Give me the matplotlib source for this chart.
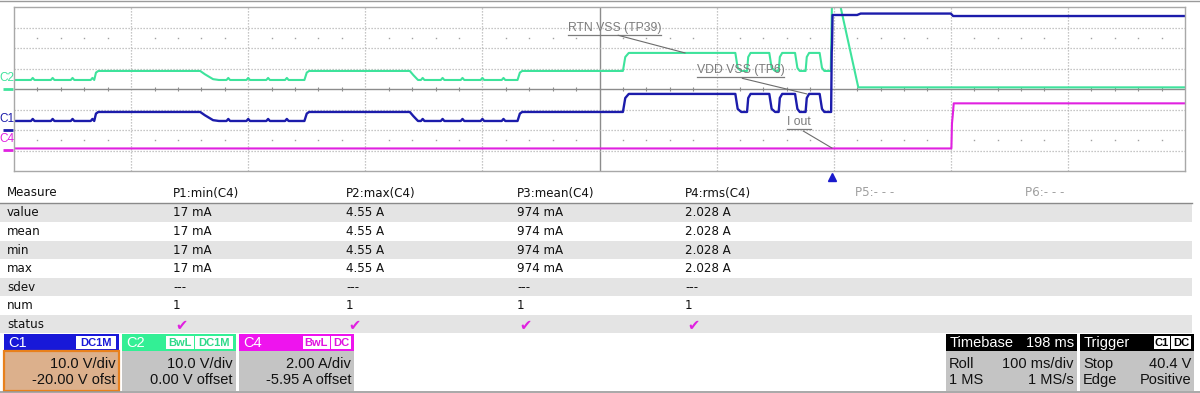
import numpy as np
import matplotlib
matplotlib.use('Agg')
import matplotlib.pyplot as plt
from matplotlib.patches import Rectangle
from matplotlib import transforms

W, H = 1200, 393

# channel settings as shown on the scope (per div, offset)
C1_SCALE, C1_OFFSET = 10.0, -20.0    # V
C2_SCALE, C2_OFFSET = 10.0, 0.0      # V
C4_SCALE, C4_OFFSET = 2.00, -5.95    # A

# trace levels
LO, MID, HI = 4.4, 8.8, 17.6

# C2 (RTN_VSS), time in ms (100 ms/div), volts
c2_t = [0, 68.5, 70, 72, 159, 163, 170, 175, 248, 250, 252, 338, 341, 345, 430, 432, 434,
        520, 522, 525, 616, 618, 621, 626, 627, 629, 645, 647, 650, 653, 654, 656, 667, 669,
        671, 676, 677, 679, 688, 690, 692, 697.5, 698.5, 705.5, 721, 1000]
c2_v = [LO, LO, MID - 0.8, MID, MID, 7.2, LO + 0.4, LO, LO, MID - 0.8, MID, MID, 6.8, LO, LO, MID - 0.8, MID,
        MID, HI - 2, HI, HI, MID + 1.5, MID, MID, HI - 2, HI, HI, MID + 1.5, MID, MID, HI - 2, HI, HI, MID + 1.5,
        MID, MID, HI - 2, HI, HI, MID + 1.5, MID, MID, 41, 41, 0.8, 0.8]

# C1 (VDD_VSS), volts
c1_t = [0, 68.5, 70, 72, 159, 163, 170, 175, 248, 250, 252, 338, 341, 345, 430, 432, 434,
        520, 522, 525, 616, 618, 621, 626, 627, 629, 645, 647, 650, 653, 654, 656, 667, 669,
        671, 676, 677, 679, 688, 690, 692, 697.8, 698.3, 698.6, 699, 720, 723, 800, 802, 1000]
c1_v = [LO, LO, MID - 0.8, MID, MID, 7.2, LO + 0.4, LO, LO, MID - 0.8, MID, MID, 6.8, LO, LO, MID - 0.8, MID,
        MID, HI - 2, HI, HI, MID + 1.5, MID, MID, HI - 2, HI, HI, MID + 1.5, MID, MID, HI - 2, HI, HI, MID + 1.5,
        MID, MID, HI - 2, HI, HI, MID + 1.5, MID, MID, 38, 42, 56.1, 56.1, 56.8, 56.8, 55.6, 55.6]

# C4 (I_out), amps
c4_t = [0, 800.5, 801, 801.6, 802.5, 1000]
c4_i = [0.15, 0.15, 2.6, 3.3, 4.55, 4.55]

# small blips on the low level of C1 / C2
blip_t = [16, 33, 50, 67, 183, 200, 217, 233, 349, 366, 383, 400, 418]
BLIP_H = 1.0

TRIGGER_T = 698.5

# measurement table
measure_cols = ['Measure', 'P1:min(C4)', 'P2:max(C4)', 'P3:mean(C4)', 'P4:rms(C4)', 'P5:- - -', 'P6:- - -']
row_names = ['value', 'mean', 'min', 'max', 'sdev', 'num', 'status']
p1_vals = ['17 mA', '17 mA', '17 mA', '17 mA', '---', '1']
p2_vals = ['4.55 A', '4.55 A', '4.55 A', '4.55 A', '---', '1']
p3_vals = ['974 mA', '974 mA', '974 mA', '974 mA', '---', '1']
p4_vals = ['2.028 A', '2.028 A', '2.028 A', '2.028 A', '---', '1']

# annotations
notes = ['RTN_VSS (TP39)', 'VDD_VSS (TP6)', 'I_out']
note_pos = [(473, 2.98), (583, 0.93), (660, -1.61)]
note_root = [(516, 2.62), (622, 0.52), (674, -2.05)]
note_tip = [(573, 1.76), (677, -0.24), (698.5, -2.88)]

GREEN = '#3ee39c'
BLUE = '#1c1cab'
MAGENTA = '#e021e0'


def add_blips(t, v):
    t = list(t); v = list(v)
    for b in blip_t:
        t += [b - 1.5, b, b + 1.5]
        v += [LO, LO + BLIP_H, LO]
    order = np.argsort(t, kind='stable')
    return np.array(t)[order], np.array(v)[order]


def to_div(v, scale, offset):
    return (np.asarray(v) + offset) / scale


fig = plt.figure(figsize=(12, 3.93), dpi=100)
ov = fig.add_axes([0, 0, 1, 1])
ov.set_xlim(0, W)
ov.set_ylim(H, 0)
ov.axis('off')

ax = fig.add_axes([14 / W, 1 - 171 / H, 1171 / W, 164 / H], zorder=2)
ax.set_xlim(0, 1000)
ax.set_ylim(-4, 4)
ax.set_xticks([])
ax.set_yticks([])
for s in ax.spines.values():
    s.set_color('#a8a8a8')
    s.set_linewidth(1)

# graticule
for i in range(1, 10):
    if i == 5:
        ax.axvline(500, color='#8c8c8c', lw=1)
    else:
        ax.axvline(i * 100, color='#b4b4b4', lw=0.9, ls=(0, (1, 1.4)))
for j in range(-3, 4):
    if j == 0:
        ax.axhline(0, color='#8c8c8c', lw=1)
    else:
        ax.axhline(j, color='#b4b4b4', lw=0.9, ls=(0, (1, 1.4)))
minor = [x for x in np.arange(20, 1000, 20) if x % 100 != 0]
ax.vlines(minor, -0.12, 0.12, color='#8c8c8c', lw=0.8)
for yy in (2.5, -2.5):
    ax.plot(minor, [yy] * len(minor), ls='none', marker='s', ms=1.0, color='#a0a0a0', mec='none')

# traces
t2, v2 = add_blips(c2_t, c2_v)
t1, v1 = add_blips(c1_t, c1_v)
ax.plot(t2, to_div(v2, C2_SCALE, C2_OFFSET), color=GREEN, lw=1.5)
ax.plot(t1, to_div(v1, C1_SCALE, C1_OFFSET), color=BLUE, lw=1.7)
ax.plot(c4_t, to_div(c4_i, C4_SCALE, C4_OFFSET), color=MAGENTA, lw=1.5)

# trigger marker below the grid
tr = transforms.blended_transform_factory(ax.transData, ax.transAxes)
ax.plot([TRIGGER_T], [-0.035], marker='^', ms=6, color='#1a1acc', transform=tr, clip_on=False)

# channel labels / ground markers
lab = transforms.blended_transform_factory(ov.transData, ax.transData)
for name, col, sc, off in [('C2', GREEN, C2_SCALE, C2_OFFSET), ('C1', BLUE, C1_SCALE, C1_OFFSET),
                           ('C4', MAGENTA, C4_SCALE, C4_OFFSET)]:
    g = off / sc
    ov.plot([3, 13], [g, g], color=col, lw=2, transform=lab, solid_capstyle='butt')
    ov.text(-1, g + 0.55, name, color=col, fontsize=8.5, family='Liberation Sans', va='center',
            ha='left', transform=lab)

# annotations with underline and leader line
note_txt = []
for s, (x, y) in zip(notes, note_pos):
    note_txt.append(ax.text(x, y, s.replace('_', ' '), fontsize=8.8, family='Liberation Sans',
                            color='#7c7c7c', va='center', ha='left'))
fig.canvas.draw()
inv = ax.transData.inverted()
for txt, root, tip in zip(note_txt, note_root, note_tip):
    bb = txt.get_window_extent()
    (x0, y0), (x1, _) = inv.transform([[bb.x0, bb.y0], [bb.x1, bb.y0]])
    ax.plot([x0, x1], [y0 - 0.06, y0 - 0.06], color='#7c7c7c', lw=0.9)
    ax.plot([root[0], tip[0]], [root[1], tip[1]], color='#6c6c6c', lw=0.8)

# top / bottom frame lines
ov.plot([0, W], [0.5, 0.5], color='#9a9a9a', lw=1)
ov.plot([0, W], [392, 392], color='#9a9a9a', lw=1.2)

# measurement table
col_x = [7, 173, 346, 517, 685, 855, 1025]
ROW_Y0, ROW_H = 203, 18.6
tfont = dict(fontsize=8.6, family='DejaVu Sans', va='center', ha='left')
for x, s in zip(col_x, measure_cols):
    ov.text(x, 193, s, color='#a0a0a0' if s.startswith(('P5', 'P6')) else '#111111', **tfont)
ov.plot([0, 1192], [ROW_Y0, ROW_Y0], color='#8a8a8a', lw=1)
cols = [p1_vals, p2_vals, p3_vals, p4_vals]
for i, name in enumerate(row_names):
    top = ROW_Y0 + i * ROW_H
    if i % 2 == 0:
        ov.add_patch(Rectangle((0, top + 0.5), 1192, ROW_H - 0.5, facecolor='#e4e4e4', lw=0))
    yc = top + ROW_H / 2 + 0.5
    ov.text(col_x[0], yc, name, color='#111111', **tfont)
    for k, vals in enumerate(cols):
        if name == 'status':
            ov.text(col_x[k + 1] + 2, yc + 1, '\u2714', color=MAGENTA, fontsize=10.5, va='center',
                    ha='left', family='DejaVu Sans')
        else:
            ov.text(col_x[k + 1], yc, vals[i], color='#111111', **tfont)

# bottom info boxes
bfont = dict(family='Liberation Sans', fontsize=10.5)
HEAD_T, HEAD_B, BODY_B = 334, 351, 391


def tag(xr, w, s, col):
    ov.add_patch(Rectangle((xr - w, HEAD_T + 2), w, HEAD_B - HEAD_T - 4, facecolor='white',
                           edgecolor='none'))
    ov.text(xr - w / 2, (HEAD_T + HEAD_B) / 2 + 0.5, s, color=col, fontsize=8,
            family='Liberation Sans', weight='bold', ha='center', va='center')
    return xr - w - 1.5


def info_box(x0, x1, head_col, title, title_right, tags, body, body_col, tag_col, edge=None):
    ov.add_patch(Rectangle((x0, HEAD_T), x1 - x0, HEAD_B - HEAD_T, facecolor=head_col, lw=0))
    ov.add_patch(Rectangle((x0, HEAD_B), x1 - x0, BODY_B - HEAD_B, facecolor=body_col,
                           edgecolor=edge if edge else 'none', lw=1.6 if edge else 0))
    ov.text(x0 + 4, (HEAD_T + HEAD_B) / 2 + 0.5, title, color='white', ha='left', va='center', **bfont)
    if title_right:
        ov.text(x1 - 3, (HEAD_T + HEAD_B) / 2 + 0.5, title_right, color='white', ha='right',
                va='center', **bfont)
    xr = x1 - 3
    for s, w in reversed(tags):
        xr = tag(xr, w, s, tag_col)
    for row, (left, right) in zip([364, 380], body):
        if left:
            ov.text(x0 + 3, row, left, color='#111111', ha='left', va='center', **bfont)
        ov.text(x1 - 3, row, right, color='#111111', ha='right', va='center', **bfont)


info_box(4, 119, '#1818d8', 'C1', None, [('DC1M', 40)],
         [(None, '10.0 V/div'), (None, '-20.00 V ofst')], '#dcb08c', '#1818d8', edge='#e8801c')
info_box(122, 236, '#33ef95', 'C2', None, [('BwL', 28), ('DC1M', 38)],
         [(None, '10.0 V/div'), (None, '0.00 V offset')], '#c4c4c4', '#2fd98a')
info_box(239, 354, '#ee14ee', 'C4', None, [('BwL', 27), ('DC', 20)],
         [(None, '2.00 A/div'), (None, '-5.95 A offset')], '#c4c4c4', '#e014e0')
info_box(946, 1077, '#000000', 'Timebase', '198 ms', [],
         [('Roll', '100 ms/div'), ('1 MS', '1 MS/s')], '#c4c4c4', '#000000')
info_box(1080, 1194, '#000000', 'Trigger', None, [('C1', 16), ('DC', 20)],
         [('Stop', '40.4 V'), ('Edge', 'Positive')], '#c4c4c4', '#000000')

fig.savefig('out.png', dpi=100)
